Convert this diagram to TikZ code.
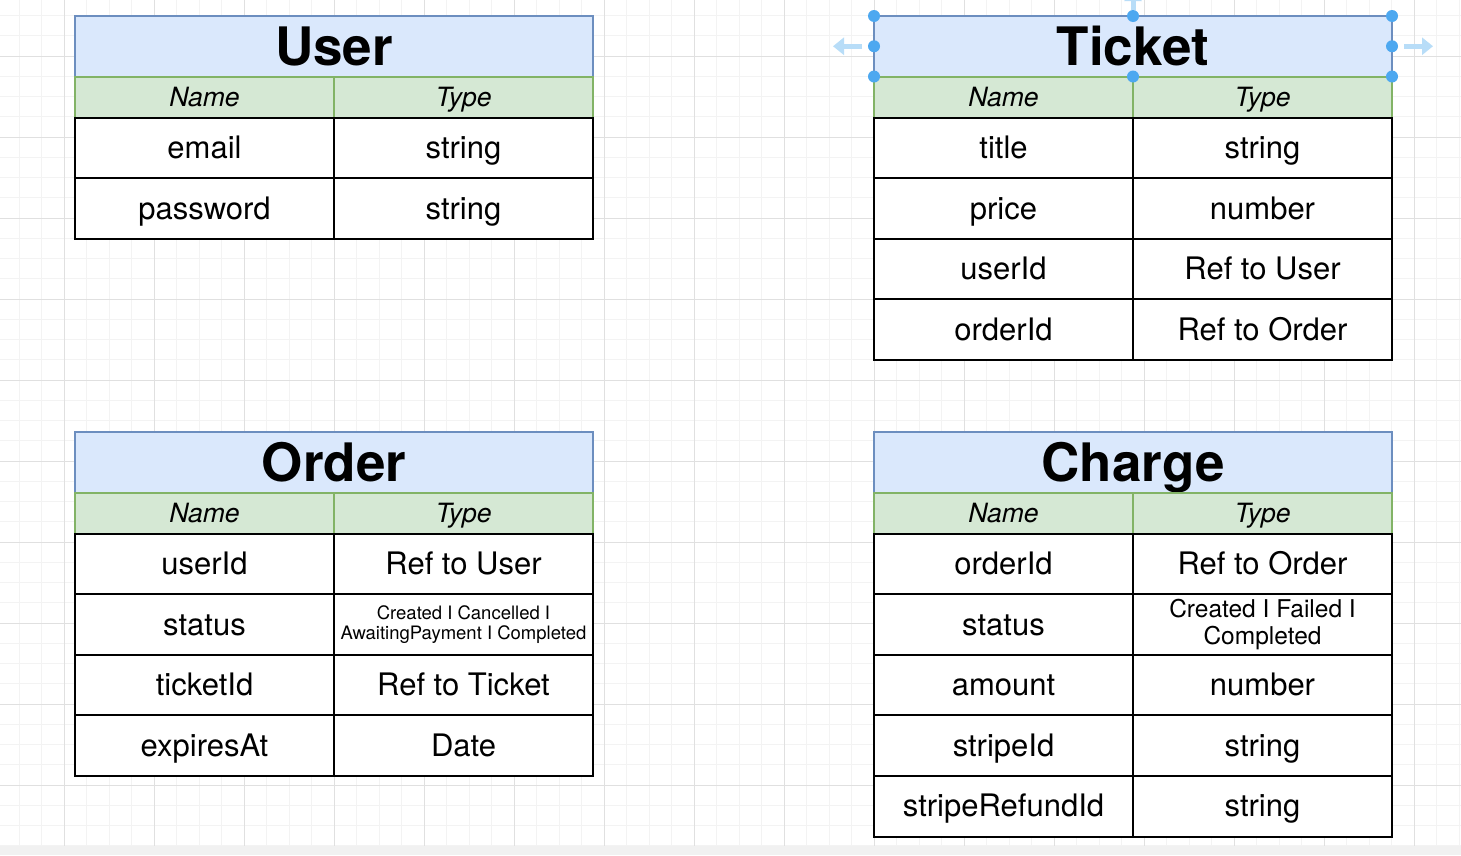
\documentclass[tikz,border=0pt]{standalone}
\usepackage{fontspec}
\setmainfont{TeX Gyre Heros}
\usetikzlibrary{arrows.meta, positioning, calc}

\definecolor{titlefill}{HTML}{DAE8FC}
\definecolor{titleline}{HTML}{6C8EBF}
\definecolor{headfill}{HTML}{D5E8D4}
\definecolor{headline}{HTML}{82B366}
\definecolor{gridminor}{HTML}{F3F3F3}
\definecolor{gridmajor}{HTML}{E0E0E0}
\definecolor{stripgray}{HTML}{F1F1F1}
\definecolor{handle}{HTML}{4DA8F0}
\definecolor{handlearrow}{HTML}{B8DDF8}

\newcommand{\orderstatus}{Created I Cancelled I\\AwaitingPayment I Completed}
\newcommand{\chargestatus}{Created I Failed I\\Completed}

\begin{document}
\begin{tikzpicture}[
      x=1pt, y=-1pt,
      every node/.style={inner sep=0pt, outer sep=0pt},
      tabtitle/.style={draw=titleline, fill=titlefill, line width=2pt, anchor=north west,
        minimum width=518pt, minimum height=60.5pt, font=\fontsize{53}{53}\selectfont\bfseries,
        text height=38pt, text depth=0pt},
      tabhead/.style={draw=headline, fill=headfill, line width=2pt, anchor=north west,
        minimum width=259pt, minimum height=41pt, font=\fontsize{26.5}{26.5}\selectfont\itshape,
        text height=19pt, text depth=0pt, text depth=-2pt},
      tabcell/.style={draw=black, fill=white, line width=2pt, anchor=north west,
        minimum width=259pt, minimum height=60.6pt, font=\fontsize{31}{31}\selectfont,
        text height=21.5pt, text depth=-3pt},
      statsmall/.style={tabcell, align=center, text height={}, text depth={},
        font=\fontsize{18.5}{19.5}\selectfont},
      statmid/.style={tabcell, align=center, text height={}, text depth={},
        font=\fontsize{24.5}{27}\selectfont},
      handledot/.style={circle, fill=handle, minimum size=12pt},
      handlearr/.style={handlearrow, line width=5pt, -{Triangle[length=11pt, width=17pt]}}
    ]

    % Canvas and grid
    \useasboundingbox (0,0) rectangle (1461,855);
    \clip (0,0) rectangle (1461,855);
    \fill[white] (0,0) rectangle (1461,855);
    \foreach \gx in {0,...,64}
      \draw[gridminor, line width=0.8pt] ({19+22.5*\gx},0) -- ({19+22.5*\gx},846);
    \foreach \gy in {0,...,42}
      \draw[gridminor, line width=0.8pt] (0,{-4.75+20.25*\gy}) -- (1461,{-4.75+20.25*\gy});
    \foreach \gx in {0,...,15}
      \draw[gridmajor, line width=0.9pt] ({64+90*\gx},0) -- ({64+90*\gx},846);
    \foreach \gy in {0,...,9}
      \draw[gridmajor, line width=0.9pt] (0,{56+81*\gy}) -- (1461,{56+81*\gy});
    \fill[stripgray] (0,846) rectangle (1461,855);

    % User
    \node[tabtitle] (user) at (75,16) {User};
    \node[tabhead] (user-name) at (user.south west) {Name};
    \node[tabhead] (user-type) at (user-name.north east) {Type};
    \foreach \fname/\ftype/\fstyle [count=\i] in {email/string/tabcell, password/string/tabcell} {
      \node[tabcell] (user-f\i) at ($(user-name.south west)+(0,{(\i-1)*60.6})$) {\fname};
      \node[\fstyle] (user-t\i) at (user-f\i.north east) {\ftype};
    }

    % Ticket
    \node[tabtitle] (ticket) at (874,16) {Ticket};
    \node[tabhead] (ticket-name) at (ticket.south west) {Name};
    \node[tabhead] (ticket-type) at (ticket-name.north east) {Type};
    \foreach \fname/\ftype/\fstyle [count=\i] in {title/string/tabcell, price/number/tabcell,
        userId/Ref to User/tabcell, orderId/Ref to Order/tabcell} {
      \node[tabcell] (ticket-f\i) at ($(ticket-name.south west)+(0,{(\i-1)*60.6})$) {\fname};
      \node[\fstyle] (ticket-t\i) at (ticket-f\i.north east) {\ftype};
    }

    % Order
    \node[tabtitle] (order) at (75,432) {Order};
    \node[tabhead] (order-name) at (order.south west) {Name};
    \node[tabhead] (order-type) at (order-name.north east) {Type};
    \foreach \fname/\ftype/\fstyle [count=\i] in {userId/Ref to User/tabcell, status/\orderstatus/statsmall,
        ticketId/Ref to Ticket/tabcell, expiresAt/Date/tabcell} {
      \node[tabcell] (order-f\i) at ($(order-name.south west)+(0,{(\i-1)*60.6})$) {\fname};
      \node[\fstyle] (order-t\i) at (order-f\i.north east) {\ftype};
    }

    % Charge
    \node[tabtitle] (charge) at (874,432) {Charge};
    \node[tabhead] (charge-name) at (charge.south west) {Name};
    \node[tabhead] (charge-type) at (charge-name.north east) {Type};
    \foreach \fname/\ftype/\fstyle [count=\i] in {orderId/Ref to Order/tabcell, status/\chargestatus/statmid,
        amount/number/tabcell, stripeId/string/tabcell, stripeRefundId/string/tabcell} {
      \node[tabcell] (charge-f\i) at ($(charge-name.south west)+(0,{(\i-1)*60.6})$) {\fname};
      \node[\fstyle] (charge-t\i) at (charge-f\i.north east) {\ftype};
    }

    % Selection handles on the Ticket title
    \draw[handlearr] ($(ticket.west)+(-12,0)$) -- ++(-29,0);
    \draw[handlearr] ($(ticket.east)+(12,0)$) -- ++(29,0);
    \draw[handlearr] ($(ticket.north)+(0,-6)$) -- ++(0,-20);
    \foreach \a in {north west, north, north east, west, east, south west, south, south east}
      \node[handledot] at (ticket.\a) {};
    \end{tikzpicture}
\end{document}
